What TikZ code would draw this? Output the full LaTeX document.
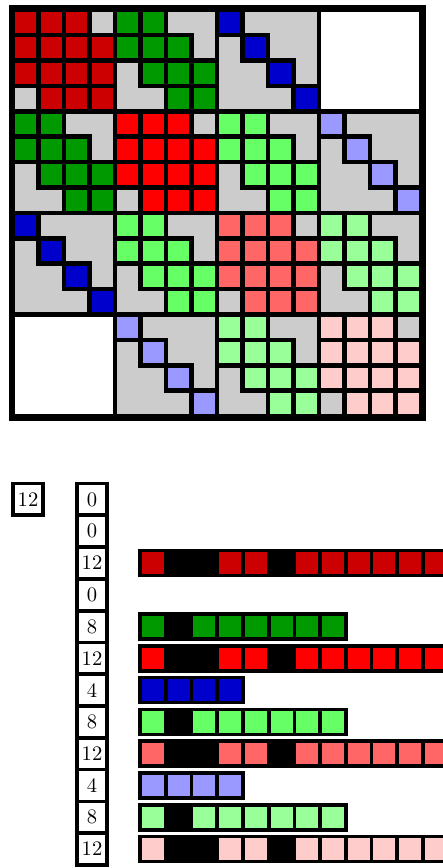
\documentclass[tikz,border=0pt]{standalone}
\usepackage{tikz}
\usetikzlibrary{positioning}

\definecolor{darkred}{HTML}{CC0000}
\definecolor{darkgreen}{HTML}{009900}
\definecolor{darkblue}{HTML}{0000CC}
\definecolor{brightred}{HTML}{FF0000}
\definecolor{lightgreen}{HTML}{66FF66}
\definecolor{lavender}{HTML}{9999FF}
\definecolor{salmon}{HTML}{FF6666}
\definecolor{palegreen}{HTML}{99FF99}
\definecolor{palepink}{HTML}{FFCCCC}
\definecolor{cellgray}{HTML}{CCCCCC}

% 4x4 blocks of the matrix: column, row, colour
\newcommand{\fullblock}[3]{%
  \begin{scope}[shift={(#1,#2)}]
    \foreach \yy in {0,...,3}
      \foreach \xx in {0,...,3}
        \draw[cell, fill=#3] (\xx,\yy) rectangle ++(1,1);
    \draw[cell, fill=cellgray] (3,0) rectangle ++(1,1);
    \draw[cell, fill=cellgray] (0,3) rectangle ++(1,1);
  \end{scope}}
\newcommand{\bandblock}[3]{%
  \begin{scope}[shift={(#1,#2)}]
    \foreach \xx/\yy in {0/0,1/0,0/1,1/1,2/1,1/2,2/2,3/2,2/3,3/3}
      \draw[cell, fill=#3] (\xx,\yy) rectangle ++(1,1);
    \draw[cell, fill=cellgray] (2,0) -- (4,0) -- (4,2) -- (3,2) -- (3,1) -- (2,1) -- cycle;
    \draw[cell, fill=cellgray] (0,2) -- (1,2) -- (1,3) -- (2,3) -- (2,4) -- (0,4) -- cycle;
  \end{scope}}
\newcommand{\diagblock}[3]{%
  \begin{scope}[shift={(#1,#2)}]
    \foreach \k in {0,...,3}
      \draw[cell, fill=#3] (\k,\k) rectangle ++(1,1);
    \draw[cell, fill=cellgray] (1,0) -- (4,0) -- (4,3) -- (3,3) -- (3,2) -- (2,2) -- (2,1) -- (1,1) -- cycle;
    \draw[cell, fill=cellgray] (0,1) -- (1,1) -- (1,2) -- (2,2) -- (2,3) -- (3,3) -- (3,4) -- (0,4) -- cycle;
  \end{scope}}
\newcommand{\emptyblock}[2]{%
  \draw[cell, fill=white] (#1,#2) rectangle ++(4,4);}

% one stored row: node, colour, cells (1 = entry, 0 = padding)
\newcommand{\databar}[3]{%
  \begin{scope}[shift={(#1.east)}, xshift=16.5pt]
    \foreach \e [count=\m from 0] in {#3} {
      \ifnum\e=1 \def\fc{#2}\else\def\fc{black}\fi
      \draw[barcell, fill=\fc] (\m*25.7,-12.5) rectangle ++(25.7,25);
    }
  \end{scope}}

\begin{document}
\begin{tikzpicture}[x=0.5pt, y=-0.5pt,
    cell/.style={draw=black, line width=2.3pt},
    barcell/.style={draw=black, line width=1.85pt},
    numbox/.style={draw=black, line width=1.85pt, minimum width=15.15pt,
      minimum height=15.89pt, inner sep=0pt, outer sep=0pt,
      font=\fontsize{10.3}{12}\selectfont},
    node distance=0pt]
\useasboundingbox (0,0) rectangle (443,868);

% the matrix
\begin{scope}[xshift=6.5pt, yshift=-4.85pt, x=12.75pt, y=-12.7pt]
  \draw[line width=4.5pt] (0,0) rectangle (16,16);
  \fullblock{0}{0}{darkred}
  \bandblock{4}{0}{darkgreen}
  \diagblock{8}{0}{darkblue}
  \emptyblock{12}{0}
  \bandblock{0}{4}{darkgreen}
  \fullblock{4}{4}{brightred}
  \bandblock{8}{4}{lightgreen}
  \diagblock{12}{4}{lavender}
  \diagblock{0}{8}{darkblue}
  \bandblock{4}{8}{lightgreen}
  \fullblock{8}{8}{salmon}
  \bandblock{12}{8}{palegreen}
  \emptyblock{0}{12}
  \diagblock{4}{12}{lavender}
  \bandblock{8}{12}{palegreen}
  \fullblock{12}{12}{palepink}
\end{scope}

% row lengths
\node[numbox] (c1) at (92,499.44) {0};
\foreach \v [count=\k from 2, remember=\k as \j (initially 1)] in {0,12,0,8,12,4,8,12,4,8,12}
  \node[numbox, below=of c\j] (c\k) {\v};
\node[numbox, left=16.85pt of c1] (total) {12};

% stored rows
\databar{c3}{darkred}{1,0,0,1,1,0,1,1,1,1,1,1}
\databar{c5}{darkgreen}{1,0,1,1,1,1,1,1}
\databar{c6}{brightred}{1,0,0,1,1,0,1,1,1,1,1,1}
\databar{c7}{darkblue}{1,1,1,1}
\databar{c8}{lightgreen}{1,0,1,1,1,1,1,1}
\databar{c9}{salmon}{1,0,0,1,1,0,1,1,1,1,1,1}
\databar{c10}{lavender}{1,1,1,1}
\databar{c11}{palegreen}{1,0,1,1,1,1,1,1}
\databar{c12}{palepink}{1,0,0,1,1,0,1,1,1,1,1,1}
\end{tikzpicture}
\end{document}
